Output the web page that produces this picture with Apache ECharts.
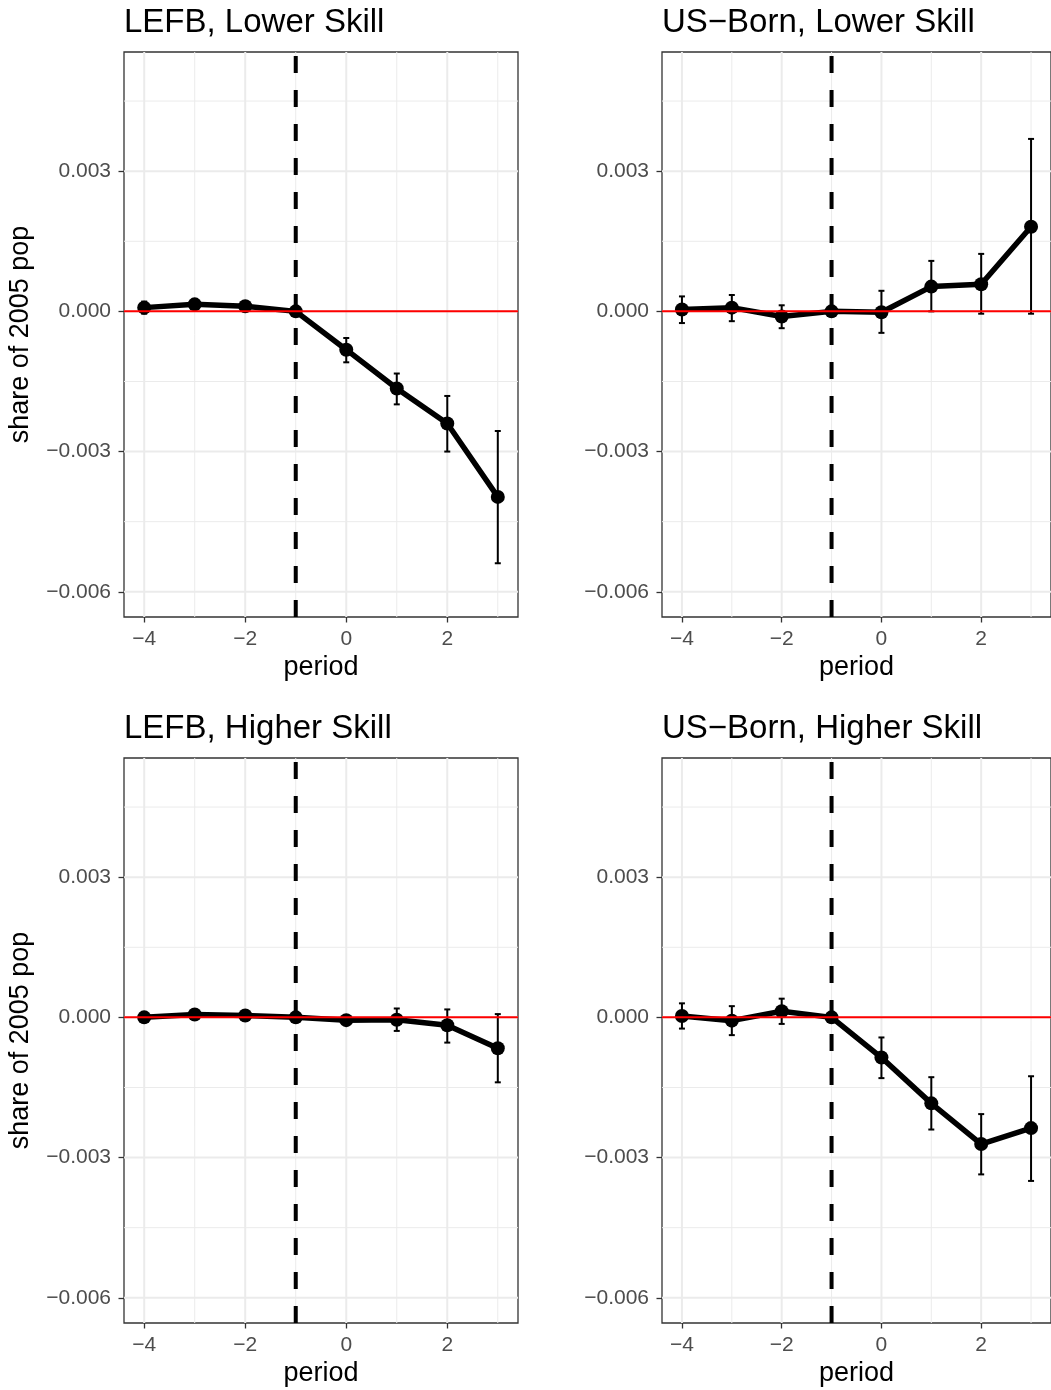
<!DOCTYPE html>
<html>
<head>
<meta charset="utf-8">
<title>Event-study estimates by group</title>
<script src="https://cdn.jsdelivr.net/npm/echarts@6/dist/echarts.min.js"></script>
<style>
  html, body { margin: 0; padding: 0; background: #ffffff; }
  #chart { width: 1051px; height: 1390px; }
</style>
</head>
<body>
<div id="chart"></div>
<script>
// ---- data -------------------------------------------------------------
const periods = [-4, -3, -2, -1, 0, 1, 2, 3];

const panelTitles = ['LEFB, Lower Skill', 'US\u2212Born, Lower Skill',
                     'LEFB, Higher Skill', 'US\u2212Born, Higher Skill'];

// LEFB, lower skill
const lefbLowEst = [0.00008, 0.00015, 0.00011, 0, -0.00082, -0.00165, -0.00240, -0.00397];
const lefbLowLo  = [-0.00005, 0.00005, 0.00002, 0, -0.00109, -0.00199, -0.00300, -0.00539];
const lefbLowHi  = [0.00021, 0.00025, 0.00020, 0, -0.00057, -0.00133, -0.00181, -0.00256];

// US-born, lower skill
const usLowEst = [0.00004, 0.00008, -0.00011, 0, -0.00002, 0.00053, 0.00058, 0.00181];
const usLowLo  = [-0.00025, -0.00021, -0.00036, 0, -0.00046, 0.00000, -0.00005, -0.00005];
const usLowHi  = [0.00032, 0.00035, 0.00013, 0, 0.00044, 0.00108, 0.00123, 0.00369];

// LEFB, higher skill
const lefbHighEst = [0.00000, 0.00006, 0.00004, 0, -0.00006, -0.00005, -0.00017, -0.00066];
const lefbHighLo  = [-0.00005, 0.00000, -0.00002, 0, -0.00013, -0.00029, -0.00054, -0.00139];
const lefbHighHi  = [0.00005, 0.00012, 0.00010, 0, 0.00001, 0.00019, 0.00017, 0.00007];

// US-born, higher skill
const usHighEst = [0.00003, -0.00007, 0.00013, 0, -0.00086, -0.00184, -0.00271, -0.00237];
const usHighLo  = [-0.00024, -0.00038, -0.00014, 0, -0.00130, -0.00240, -0.00336, -0.00350];
const usHighHi  = [0.00030, 0.00024, 0.00040, 0, -0.00043, -0.00128, -0.00207, -0.00126];

// axis ticks and grid positions
const yMajorTicks = [-0.006, -0.003, 0, 0.003];
const yMinorTicks = [-0.0045, -0.0015, 0.0015, 0.0045];
const xMajorTicks = [-4, -2, 0, 2];
const xMinorTicks = [-3, -1, 1, 3];
const yLimits = [-0.00654, 0.00555];
const xLimits = [-4.4, 3.4];
const treatmentPeriod = -1;
const referenceLevel = 0;

// ---- layout -----------------------------------------------------------
const panels = [
  { title: panelTitles[0], est: lefbLowEst,  lo: lefbLowLo,  hi: lefbLowHi,  left: 124, top: 52,  yName: true },
  { title: panelTitles[1], est: usLowEst,    lo: usLowLo,    hi: usLowHi,    left: 662, top: 52,  yName: false },
  { title: panelTitles[2], est: lefbHighEst, lo: lefbHighLo, hi: lefbHighHi, left: 124, top: 758, yName: true },
  { title: panelTitles[3], est: usHighEst,   lo: usHighLo,   hi: usHighHi,   left: 662, top: 758, yName: false }
];
const PANEL_W = 394, PANEL_H = 565;
const FONT = 'Liberation Sans, Arial, Helvetica, sans-serif';

const fmtMinus = s => s.replace('-', '\u2212');

function renderErrorBar(params, api) {
  const x = api.value(0);
  const top = api.coord([x, api.value(2)]);
  const bot = api.coord([x, api.value(1)]);
  const w = 3;
  const style = { stroke: '#000000', lineWidth: 2, fill: null };
  return {
    type: 'group',
    children: [
      { type: 'line', shape: { x1: top[0], y1: top[1], x2: bot[0], y2: bot[1] }, style },
      { type: 'line', shape: { x1: top[0] - w, y1: top[1], x2: top[0] + w, y2: top[1] }, style },
      { type: 'line', shape: { x1: bot[0] - w, y1: bot[1], x2: bot[0] + w, y2: bot[1] }, style }
    ]
  };
}

// Reference lines spanning the whole panel. Each item is [x, y]; a horizontal
// line uses the y value, a vertical line the x value.
function refLineSeries(ax, dir, values, color, width, dash, z) {
  return {
    type: 'custom', ...ax, z, silent: true, clip: true,
    encode: { x: 0, y: 1 },
    data: values.map(v => dir === 'h' ? [0, v] : [v, 0]),
    renderItem(params, api) {
      const cs = params.coordSys;
      const pt = api.coord([api.value(0), api.value(1)]);
      const shape = dir === 'h'
        ? { x1: cs.x, y1: pt[1], x2: cs.x + cs.width, y2: pt[1] }
        : { x1: pt[0], y1: cs.y + cs.height, x2: pt[0], y2: cs.y };
      return {
        type: 'line', shape,
        style: { stroke: color, lineWidth: width, lineDash: dash || null, fill: null }
      };
    }
  };
}

const option = {
  animation: false,
  backgroundColor: '#ffffff',
  textStyle: { fontFamily: FONT },
  title: [], grid: [], xAxis: [], yAxis: [], series: []
};

panels.forEach((p, i) => {
  option.title.push({
    text: p.title, left: p.left - 5, top: p.top - 51,
    textStyle: { fontFamily: FONT, fontSize: 33, fontWeight: 'normal', color: '#000000' }
  });

  option.grid.push({
    left: p.left, top: p.top, width: PANEL_W, height: PANEL_H,
    show: true, borderColor: '#333333', borderWidth: 1.3, backgroundColor: '#ffffff'
  });

  option.xAxis.push({
    type: 'value', gridIndex: i, min: xLimits[0], max: xLimits[1],
    name: 'period', nameLocation: 'middle', nameGap: 37,
    nameTextStyle: { fontFamily: FONT, fontSize: 27, color: '#000000' },
    axisLine: { show: false, onZero: false },
    axisTick: { show: true, length: 5.5, customValues: xMajorTicks,
                lineStyle: { color: '#333333', width: 1.3 } },
    axisLabel: { customValues: xMajorTicks, margin: 12, fontSize: 21, color: '#4d4d4d',
                 fontFamily: FONT, formatter: v => fmtMinus(String(Math.round(v))) },
    splitLine: { show: false }
  });

  option.yAxis.push({
    type: 'value', gridIndex: i, min: yLimits[0], max: yLimits[1],
    name: p.yName ? 'share of 2005 pop' : '', nameLocation: 'middle', nameGap: 90,
    nameRotate: 90,
    nameTextStyle: { fontFamily: FONT, fontSize: 27, color: '#000000' },
    axisLine: { show: false, onZero: false },
    axisTick: { show: true, length: 5.5, customValues: yMajorTicks,
                lineStyle: { color: '#333333', width: 1.3 } },
    axisLabel: { customValues: yMajorTicks, margin: 13, fontSize: 21, color: '#4d4d4d',
                 fontFamily: FONT, formatter: v => fmtMinus(v.toFixed(3)) },
    splitLine: { show: false }
  });

  const ax = { xAxisIndex: i, yAxisIndex: i };

  // background grid: minor lines then major lines
  option.series.push(refLineSeries(ax, 'h', yMinorTicks, '#ebebeb', 1, null, 1));
  option.series.push(refLineSeries(ax, 'v', xMinorTicks, '#ebebeb', 1, null, 1));
  option.series.push(refLineSeries(ax, 'h', yMajorTicks, '#ebebeb', 2, null, 1));
  option.series.push(refLineSeries(ax, 'v', xMajorTicks, '#ebebeb', 2, null, 1));

  // treatment marker
  option.series.push(refLineSeries(ax, 'v', [treatmentPeriod], '#000000', 4, [17, 17], 2));

  // confidence intervals
  option.series.push({
    type: 'custom', ...ax, z: 3, silent: true,
    renderItem: renderErrorBar,
    encode: { x: 0, y: [1, 2] },
    data: periods.map((t, k) => [t, p.lo[k], p.hi[k]]).filter(d => d[1] !== d[2])
  });

  // point estimates
  option.series.push({
    type: 'line', ...ax, z: 4, silent: true,
    symbol: 'circle', symbolSize: 14, showSymbol: true,
    itemStyle: { color: '#000000' },
    lineStyle: { color: '#000000', width: 5.5 },
    data: periods.map((t, k) => [t, p.est[k]])
  });

  // zero reference
  option.series.push(refLineSeries(ax, 'h', [referenceLevel], '#ff0000', 2, null, 5));
});

const chart = echarts.init(document.getElementById('chart'), null, { renderer: 'canvas' });
chart.setOption(option);
</script>
</body>
</html>
